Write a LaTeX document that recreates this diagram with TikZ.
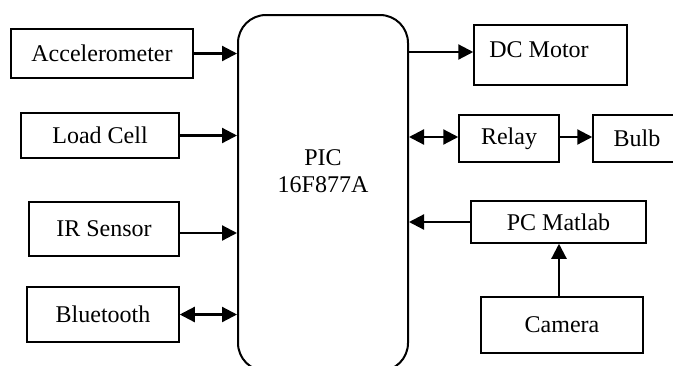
\documentclass[tikz,border=0pt]{standalone}
\usepackage{fontspec}
\setmainfont{Liberation Serif}
\usetikzlibrary{arrows.meta}
\begin{document}
\begin{tikzpicture}[x=1pt,y=-1pt,
  box/.style={draw, line width=1.5pt, inner sep=0pt, font=\fontsize{24}{27}\selectfont},
  arr/.style={line width=2.2pt, -{Triangle[length=15pt,width=15pt]}},
  darr/.style={line width=2.2pt, {Triangle[length=15pt,width=15pt]}-{Triangle[length=15pt,width=15pt]}}]
\useasboundingbox (0,0) rectangle (673,365);
\begin{scope}
\clip (0,0) rectangle (673,365);
\node[box, line width=2pt, rounded corners=28pt, minimum width=170pt, minimum height=356pt,
  label={[align=center, yshift=22pt, font=\fontsize{24}{27}\selectfont]center:PIC\\16F877A}] (pic) at (323,193) {};
\node[box, minimum width=182pt, minimum height=49pt] (acc) at (102,53.5) {Accelerometer};
\node[box, minimum width=158pt, minimum height=45pt] (load) at (100,135.5) {Load Cell};
\node[box, minimum width=150pt, minimum height=54pt] (ir) at (104,229) {IR Sensor};
\node[box, minimum width=152pt, minimum height=55pt] (bt) at (103,314.5) {Bluetooth};
\node[box, minimum width=153pt, minimum height=60pt,
  label={[xshift=-11.5pt, yshift=5pt, font=\fontsize{24}{27}\selectfont]center:DC Motor}] (motor) at (550.5,55) {};
\node[box, minimum width=100pt, minimum height=47pt] (relay) at (509,138.5) {Relay};
\node[box, minimum width=88pt, minimum height=47pt] (bulb) at (637,138.5) {Bulb};
\node[box, minimum width=175pt, minimum height=42pt] (pc) at (558.5,222) {PC Matlab};
\node[box, minimum width=162pt, minimum height=56pt] (cam) at (562,325) {Camera};
\end{scope}
\draw[arr] (acc.east) -- (acc.east -| pic.west);
\draw[arr] (load.east) -- (load.east -| pic.west);
\draw[arr] (ir.east |- 0,233) -- (pic.west |- 0,233);
\draw[darr] (bt.east) -- (bt.east -| pic.west);
\draw[arr] (pic.east |- 0,52) -- (motor.west |- 0,52);
\draw[darr] (pic.east |- 0,137) -- (relay.west |- 0,137);
\draw[arr] (relay.east |- 0,137) -- (bulb.west |- 0,137);
\draw[arr] (pc.west) -- (pic.east |- pc.west);
\draw[arr] (cam.north -| 559,0) -- (pc.south -| 559,0);
\end{tikzpicture}
\end{document}
